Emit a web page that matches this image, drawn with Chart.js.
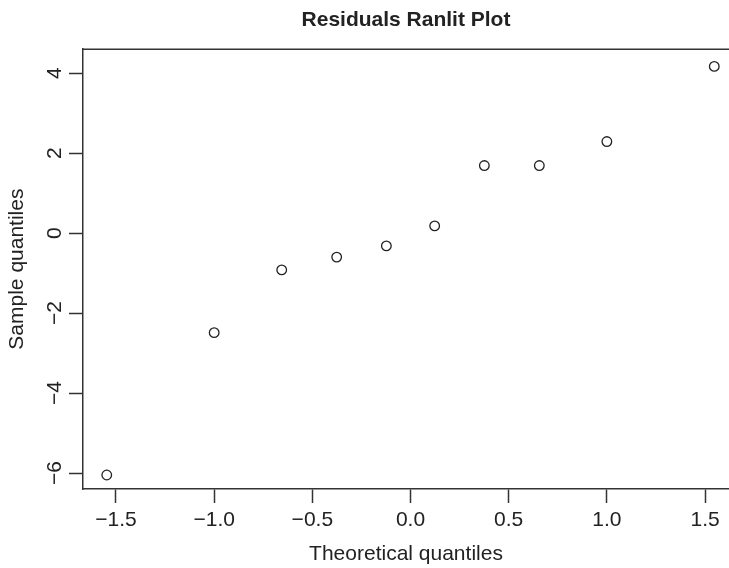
<!DOCTYPE html>
<html>
<head>
<meta charset="utf-8">
<script src="https://cdn.jsdelivr.net/npm/chart.js@4/dist/chart.umd.min.js"></script>
<style>
html,body{margin:0;padding:0;background:#fff;overflow:hidden;}
#wrap{width:729px;height:568px;position:relative;}
</style>
</head>
<body>
<div id="wrap"><canvas id="c" width="729" height="568"></canvas></div>
<script>
const theoretical = [-1.547, -1.0, -0.656, -0.376, -0.123, 0.123, 0.376, 0.656, 1.0, 1.547];
const sample = [-6.05, -2.49, -0.92, -0.60, -0.32, 0.18, 1.69, 1.69, 2.29, 4.17];
const xTicks = [-1.5, -1.0, -0.5, 0.0, 0.5, 1.0, 1.5];
const xTickLabels = ['\u22121.5', '\u22121.0', '\u22120.5', '0.0', '0.5', '1.0', '1.5'];
const yTicks = [-6, -4, -2, 0, 2, 4];
const yTickLabels = ['\u22126', '\u22124', '\u22122', '0', '2', '4'];
const titleText = 'Residuals Ranlit Plot';
const xTitle = 'Theoretical quantiles';
const yTitle = 'Sample quantiles';

const FONT = '"Liberation Sans", Arial, Helvetica, sans-serif';
const INK = '#222';
const LINE = '#333';

const points = theoretical.map((x, i) => ({x: x, y: sample[i]}));

const frameTop = {
  id: 'frameTop',
  afterDraw(chart) {
    const a = chart.chartArea, ctx = chart.ctx;
    ctx.save();
    ctx.strokeStyle = LINE;
    ctx.lineWidth = 1.5;
    ctx.beginPath();
    ctx.moveTo(a.left, a.top);
    ctx.lineTo(chart.width, a.top);
    ctx.stroke();
    ctx.restore();
  }
};

new Chart(document.getElementById('c'), {
  type: 'scatter',
  data: {
    datasets: [{
      data: points,
      pointStyle: 'circle',
      pointRadius: 4.8,
      pointHoverRadius: 4.8,
      borderColor: INK,
      backgroundColor: 'rgba(0,0,0,0)',
      borderWidth: 1.3,
      clip: false
    }]
  },
  options: {
    responsive: false,
    animation: false,
    events: [],
    layout: {padding: 0, autoPadding: false},
    plugins: {
      legend: {display: false},
      tooltip: {enabled: false},
      title: {
        display: true,
        text: titleText,
        fullSize: false,
        color: INK,
        font: {family: FONT, size: 21, weight: 'bold', lineHeight: 1.2},
        padding: {top: 8, bottom: 16}
      }
    },
    scales: {
      x: {
        type: 'linear',
        min: -1.668,
        max: 1.622,
        afterBuildTicks(s) { s.ticks = xTicks.map(v => ({value: v})); },
        afterFit(s) { s.height = 79; s.paddingLeft = 0; s.paddingRight = 0; },
        grid: {drawOnChartArea: false, drawTicks: true, tickLength: 14, tickColor: LINE, tickWidth: 1.5},
        border: {display: true, color: LINE, width: 1.5},
        ticks: {
          color: INK,
          padding: 5,
          maxRotation: 0,
          autoSkip: false,
          font: {family: FONT, size: 21},
          callback(v) { const i = xTicks.findIndex(t => Math.abs(t - v) < 1e-9); return i >= 0 ? xTickLabels[i] : ''; }
        },
        title: {
          display: true,
          text: xTitle,
          color: INK,
          font: {family: FONT, size: 21, lineHeight: 1.2},
          padding: {top: 0, bottom: 1}
        }
      },
      y: {
        type: 'linear',
        min: -6.4,
        max: 4.6,
        afterBuildTicks(s) { s.ticks = yTicks.map(v => ({value: v})); },
        afterFit(s) { s.width = 83; s.paddingTop = 0; s.paddingBottom = 0; },
        grid: {drawOnChartArea: false, drawTicks: true, tickLength: 14, tickColor: LINE, tickWidth: 1.5},
        border: {display: true, color: LINE, width: 1.5},
        ticks: {
          color: INK,
          padding: 2,
          minRotation: 90,
          maxRotation: 90,
          crossAlign: 'center',
          autoSkip: false,
          font: {family: FONT, size: 21},
          callback(v) { const i = yTicks.findIndex(t => Math.abs(t - v) < 1e-9); return i >= 0 ? yTickLabels[i] : ''; }
        },
        title: {
          display: true,
          text: yTitle,
          color: INK,
          font: {family: FONT, size: 21, lineHeight: 1.2},
          padding: {top: 5, bottom: 0}
        }
      }
    }
  },
  plugins: [frameTop]
});
</script>
</body>
</html>
